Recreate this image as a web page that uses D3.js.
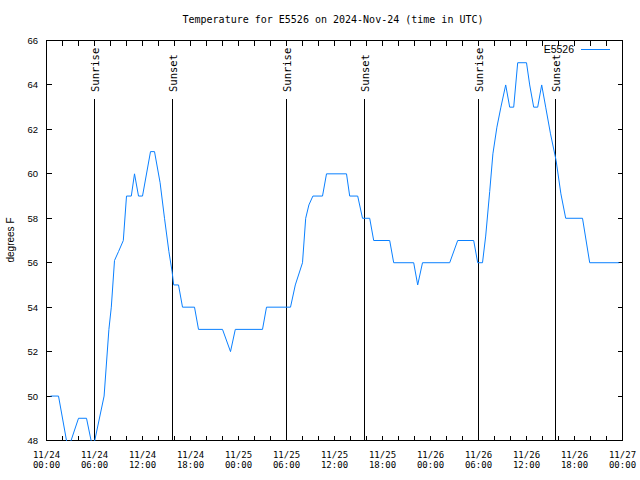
<!DOCTYPE html>
<html><head><meta charset="utf-8">
<script src="https://cdn.jsdelivr.net/npm/d3@7"></script>
<style>body{margin:0;background:#fff}svg{display:block}</style>
</head><body>
<script>
// Data: hours since 2024-11-24 00:00 UTC, temperature in °F
const hours = [0.5,1.5,2.7,4.0,5.0,5.8,7.2,7.8,8.1,8.5,9.0,9.6,10.0,10.6,11.0,11.5,12.0,13.0,13.5,14.2,14.75,15.3,15.7,15.9,16.5,17.0,18.5,19.0,22.0,23.0,23.6,27.0,27.5,30.5,31.1,32.0,32.4,32.8,33.3,34.5,35.0,37.5,37.9,38.9,39.5,40.4,40.9,42.9,43.4,45.9,46.4,47.0,50.4,51.4,53.4,53.9,54.5,54.9,55.4,55.8,56.3,56.8,57.4,57.9,58.4,58.9,60.0,60.4,60.9,61.4,61.9,62.4,63.0,63.7,64.3,64.9,67.0,67.9,71.6];
const temps = [50,50,47.6,49,49,47.6,50,53,54,56.1,56.5,57,59,59,60,59,59,61,61,59.6,58,56.5,55.6,55,55,54,54,53,53,52,53,53,54,54,55,56,58,58.6,59,59,60,60,59,59,58,58,57,57,56,56,55,56,56,57,57,56,56,57.2,59.2,60.9,62.1,63,64,63,63,65,65,64,63,63,64,63,61.8,60.6,59.1,58,58,56,56];
const sunrise = [6.03, 30.03, 54.03];
const sunset = [15.8, 39.78, 63.68];
const xTickHours = d3.range(0, 73, 2);
const xLabelDates = ["11/24","11/24","11/24","11/24","11/25","11/25","11/25","11/25","11/26","11/26","11/26","11/26","11/27"];
const xLabelTimes = ["00:00","06:00","12:00","18:00","00:00","06:00","12:00","18:00","00:00","06:00","12:00","18:00","00:00"];
const yTicks = [48,50,52,54,56,58,60,62,64,66];
const seriesName = "E5526";
const title = "Temperature for E5526 on 2024-Nov-24 (time in UTC)";

const W = 640, H = 480;
const L = 46, R = 622, T = 40, B = 440;
const mono = "'DejaVu Sans Mono', monospace";
const narrow = "'Liberation Sans Narrow', 'Liberation Sans', Arial, sans-serif";

const svg = d3.select("body").append("svg").attr("width", W).attr("height", H);
const x = d3.scaleLinear().domain([0, 72]).range([L + 0.5, R + 0.5]);
const y = d3.scaleLinear().domain([48, 66]).range([B + 0.5, T + 0.5]);

// title
svg.append("text").attr("x", 333).attr("y", 23).attr("text-anchor", "middle")
  .attr("font-family", mono).attr("font-size", 10).text(title);

// clip
svg.append("clipPath").attr("id", "clip").append("rect")
  .attr("x", L).attr("y", T).attr("width", R - L + 1).attr("height", B - T + 1);

const tick = 5;
const g = svg.append("g").attr("stroke", "#000").attr("stroke-width", 1).attr("shape-rendering", "crispEdges");
// x ticks (bottom & top)
xTickHours.forEach(h => {
  const px = Math.round(x(h) - 0.5) + 0.5;
  g.append("line").attr("x1", px).attr("x2", px).attr("y1", B + 0.5).attr("y2", B + 0.5 - tick);
  g.append("line").attr("x1", px).attr("x2", px).attr("y1", T + 0.5).attr("y2", T + 0.5 + tick);
});
// y ticks (left & right)
yTicks.forEach(v => {
  const py = Math.round(y(v) - 0.5) + 0.5;
  g.append("line").attr("y1", py).attr("y2", py).attr("x1", L + 0.5).attr("x2", L + 0.5 + tick);
  g.append("line").attr("y1", py).attr("y2", py).attr("x1", R + 0.5).attr("x2", R + 0.5 - tick);
});

// sunrise / sunset lines
const events = sunrise.map(h => ({h, label: "Sunrise"})).concat(sunset.map(h => ({h, label: "Sunset"})));
events.forEach(e => {
  const px = Math.round(x(e.h) - 0.5) + 0.5;
  g.append("line").attr("x1", px).attr("x2", px).attr("y1", 99).attr("y2", B);
  svg.append("text").attr("transform", `translate(${px + 4},92) rotate(-90)`)
    .attr("text-anchor", "start").attr("font-family", mono).attr("font-size", 10.5).text(e.label);
});

// frame
g.append("rect").attr("x", L + 0.5).attr("y", T + 0.5).attr("width", R - L).attr("height", B - T)
  .attr("fill", "none");

// y labels
svg.append("g").selectAll("text").data(yTicks).join("text")
  .attr("x", 38).attr("y", d => y(d) + 3.5).attr("text-anchor", "end")
  .attr("font-family", narrow).attr("font-size", 9.5).text(d => d);

// x labels
const xl = svg.append("g").attr("font-family", mono).attr("font-size", 9).attr("text-anchor", "middle");
xLabelDates.forEach((d, i) => {
  const px = x(i * 6);
  xl.append("text").attr("x", px).attr("y", 458).text(d);
  xl.append("text").attr("x", px).attr("y", 468).text(xLabelTimes[i]);
});

// y axis title
svg.append("text").attr("transform", "translate(14,240) rotate(-90)").attr("text-anchor", "middle")
  .attr("font-family", narrow).attr("font-size", 10).text("degrees F");

// series line
const pts = hours.map((h, i) => [h, temps[i]]);
svg.append("path").datum(pts).attr("clip-path", "url(#clip)")
  .attr("fill", "none").attr("stroke", "#0a80ff").attr("stroke-width", 1)
  .attr("d", d3.line().x(d => x(d[0])).y(d => y(d[1])));

// legend
svg.append("text").attr("x", 574).attr("y", 53).attr("text-anchor", "end")
  .attr("font-family", narrow).attr("font-size", 10.5).text(seriesName);
svg.append("line").attr("x1", 581).attr("x2", 610).attr("y1", 49.5).attr("y2", 49.5)
  .attr("stroke", "#0a80ff").attr("stroke-width", 1).attr("shape-rendering", "crispEdges");
</script>
</body></html>
